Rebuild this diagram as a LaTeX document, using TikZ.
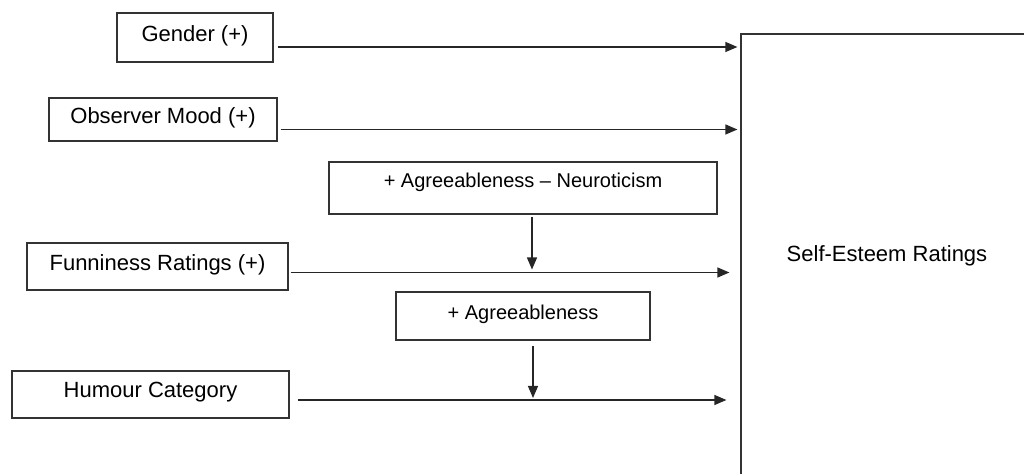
\documentclass[tikz,border=0pt]{standalone}
\usepackage{fontspec}
\setmainfont{Liberation Sans}
\usetikzlibrary{arrows.meta}

\begin{document}
\begin{tikzpicture}[x=0.5pt, y=-0.5pt,
  box/.style={draw=black!80, line width=0.6pt, inner sep=0pt,
    font=\fontsize{11}{13}\selectfont, text depth=0.42em},
  modbox/.style={box, font=\fontsize{10}{12}\selectfont},
  arr/.style={-{Triangle[length=6pt,width=5pt]}, line width=0.6pt, draw=black!85}]
\useasboundingbox (0,0) rectangle (1024,474);
\clip (0,0) rectangle (1024,474);
% predictors
\node[box, minimum width=78pt, minimum height=24.5pt] (g) at (195,37.5) {Gender (+)};
\node[box, minimum width=114pt, minimum height=21.5pt] (om) at (163,119.5) {Observer Mood (+)};
\node[box, minimum width=130.5pt, minimum height=23.5pt] (fr) at (157.5,266.5) {Funniness Ratings (+)};
\node[box, minimum width=138.5pt, minimum height=23.5pt] (hc) at (150.5,394.5) {Humour Category};
% moderators
\node[modbox, minimum width=194pt, minimum height=26pt, text depth=0.75em] (an) at (523,188) {+ Agreeableness -- Neuroticism};
\node[modbox, minimum width=127pt, minimum height=24pt] (ag) at (523,316) {+ Agreeableness};
% outcome
\node[box, minimum width=146pt, minimum height=223pt, text depth=3pt] (se) at (887,257) {Self-Esteem Ratings};
\draw[arr, shorten <=2pt, shorten >=1.5pt] ([yshift=-4.75pt]g.east) -- ([yshift=-4.75pt]g.east -| se.west);
\draw[arr, shorten <=1.5pt, shorten >=1.5pt] ([yshift=-5pt]om.east) -- ([yshift=-5pt]om.east -| se.west);
\draw[arr, shorten <=1pt, shorten >=5.5pt] ([yshift=-3pt]fr.east) coordinate (f1) -- (f1 -| se.west);
\draw[arr, shorten <=4pt, shorten >=7pt] ([yshift=-2.75pt]hc.east) coordinate (h1) -- (h1 -| se.west);
\draw[arr, shorten <=1pt, shorten >=1.5pt] ([xshift=4.5pt]an.south) -- ([xshift=4.5pt]an.south |- f1);
\draw[arr, shorten <=2.5pt, shorten >=1pt] ([xshift=5pt]ag.south) -- ([xshift=5pt]ag.south |- h1);
\end{tikzpicture}
\end{document}
